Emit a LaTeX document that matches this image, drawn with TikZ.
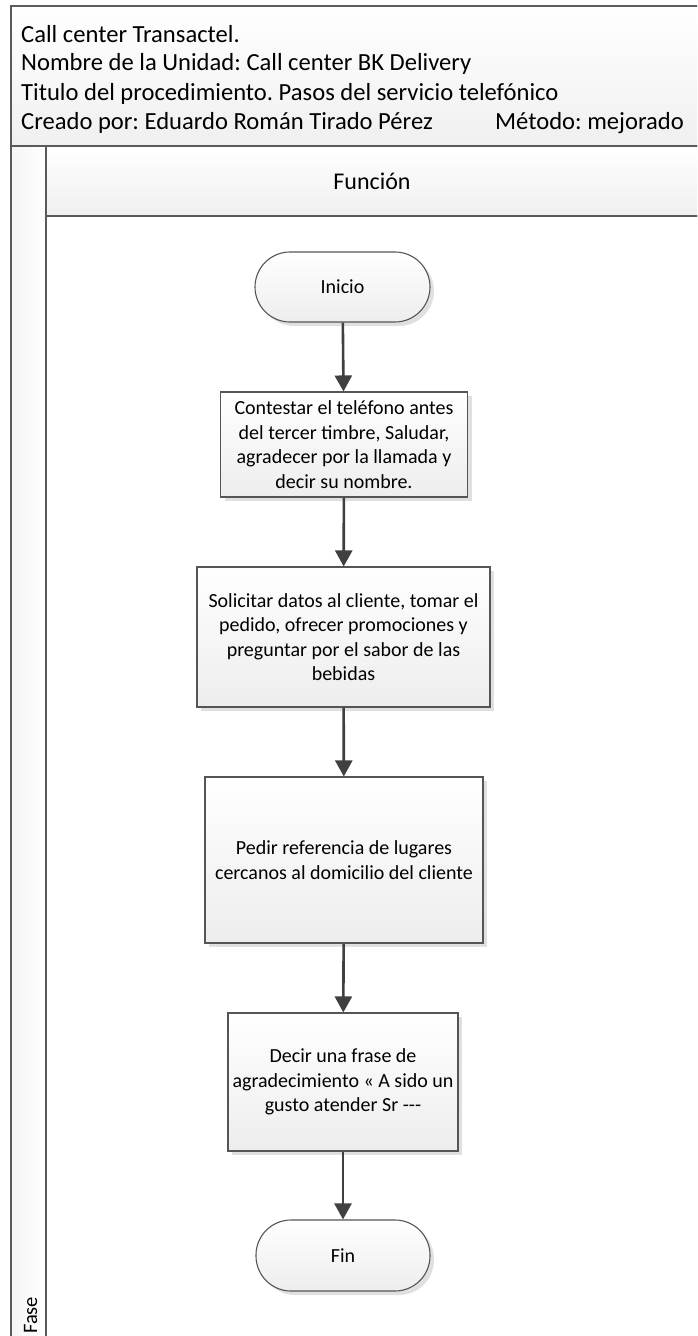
\documentclass[tikz,border=0pt]{standalone}
\usepackage{fontspec}
\setmainfont{Carlito}
\frenchspacing
\usetikzlibrary{arrows.meta,shadows}
\definecolor{framec}{HTML}{5A5A5A}
\definecolor{linec}{HTML}{404040}
\definecolor{boxbd}{HTML}{555555}
\tikzset{
  frame/.style={draw=framec, line width=1.3pt},
  stepbox/.style={draw=boxbd, line width=1.1pt, top color=white, bottom color=black!7,
    general shadow={fill=black!12, shadow xshift=4pt, shadow yshift=-4pt},
    align=center, font=\fontsize{20}{24.5}\selectfont, inner sep=0pt},
  term/.style={stepbox, rounded corners=35pt},
  flow/.style={draw=linec, line width=2.6pt, -{Triangle[length=16pt,width=17pt]}},
  hdr/.style={anchor=base west, font=\fontsize{24.6}{28}\selectfont, inner sep=0pt}
}
\begin{document}
\begin{tikzpicture}[x=1pt,y=-1pt]
\useasboundingbox (0,0) rectangle (697,1336);
\clip (0,0) rectangle (697,1336);
% header block
\path[frame, top color=white, bottom color=black!6] (11,6) rectangle (705,146);
% Fase strip
\path[frame, left color=black!4, right color=white] (11,146) rectangle (46,1345);
% Funcion header
\path[frame, top color=white, bottom color=black!6] (46,146) rectangle (705,216);
% lane body
\path[frame, fill=white] (46,216) rectangle (705,1345);

\node[hdr] (h1) at (21,42) {Call center Transactel.};
\node[hdr] (h2) at (21,70) {Nombre de la Unidad: Call center BK Delivery};
\node[hdr] (h3) at (21,100) {Titulo del procedimiento. Pasos del servicio telefónico};
\node[hdr] (h4) at (21,129) {Creado por: Eduardo Román Tirado Pérez};
\node[hdr, anchor=base east] (h5) at (684,129) {Método: mejorado};

\node[font=\fontsize{24}{28}\selectfont] (fun) at (372,181) {Función};
\node[rotate=90, anchor=south west, font=\fontsize{20.5}{22}\selectfont, inner sep=0pt] (fase) at (37.5,1334) {Fase};

\node[term, minimum width=175pt, minimum height=70pt] (ini) at (342.5,287) {Inicio};
\node[stepbox, minimum width=247pt, minimum height=105pt] (b1) at (344,444.5)
  {Contestar el teléfono antes\\del tercer timbre, Saludar,\\agradecer por la llamada y\\decir su nombre.};
\node[stepbox, minimum width=293pt, minimum height=140pt] (b2) at (343.5,637)
  {Solicitar datos al cliente, tomar el\\pedido, ofrecer promociones y\\preguntar por el sabor de las\\bebidas};
\node[stepbox, minimum width=278pt, minimum height=166pt] (b3) at (344,860)
  {Pedir referencia de lugares\\cercanos al domicilio del cliente};
\node[stepbox, minimum width=230pt, minimum height=138pt] (b4) at (343,1082)
  {Decir una frase de\\agradecimiento « A sido un\\gusto atender Sr -{}-{}-};
\node[term, minimum width=174pt, minimum height=71pt] (fin) at (343,1255.5) {Fin};

\draw[flow] (ini) -- (b1);
\draw[flow] (b1) -- (b2);
\draw[flow] (b2) -- (b3);
\draw[flow] (b3) -- (b4);
\draw[flow] (b4) -- (fin);
\end{tikzpicture}
\end{document}
